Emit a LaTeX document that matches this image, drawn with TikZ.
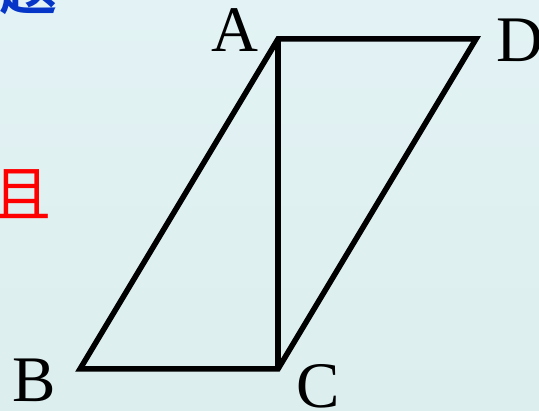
\documentclass[tikz,border=0pt]{standalone}
\usepackage{fontspec}
\setmainfont{Liberation Serif}
\newfontfamily\cjk{Noto Sans CJK SC}
\newfontfamily\cjkbold{Noto Sans CJK SC Bold}
\definecolor{bgtop}{HTML}{E3F3F5}
\definecolor{bgbot}{HTML}{DCEEEE}
\definecolor{tblue}{HTML}{0536C8}
\begin{document}
\begin{tikzpicture}[x=1pt,y=-1pt,
  edge/.style={line width=5.5pt,line join=miter,line cap=butt},
  lbl/.style={anchor=base,inner sep=0pt,text depth=0pt,font=\fontsize{65}{65}\selectfont}]
\useasboundingbox (0,0) rectangle (539,411);
\clip (0,0) rectangle (539,411);
\shade[top color=bgtop,bottom color=bgbot] (0,0) rectangle (539,411);
\node[anchor=south east,inner sep=0pt,text=tblue,font=\cjkbold\fontsize{58}{58}\selectfont] (ti) at (58,15) {题};
\node[anchor=east,inner sep=0pt,text=red,font=\cjk\fontsize{60}{60}\selectfont] (qie) at (52,194) {且};
\coordinate (A) at (278,39);
\coordinate (D) at (476,39);
\coordinate (B) at (80,369);
\coordinate (C) at (278,369);
\draw[edge] (A) -- (D) -- (C) -- (B) -- cycle;
\draw[edge] (A) -- (C);
\node[lbl] (la) at (235,52) {A};
\node[lbl] (lb) at (34,402) {B};
\node[lbl] (lc) at (318,408) {C};
\node[lbl] (ld) at (520,62) {D};
\end{tikzpicture}
\end{document}
